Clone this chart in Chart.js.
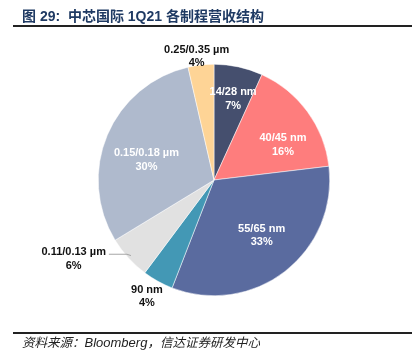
<!DOCTYPE html>
<html>
<head>
<meta charset="utf-8">
<script src="https://cdn.jsdelivr.net/npm/chart.js@4.4.1/dist/chart.umd.min.js"></script>
<style>
  html, body { margin: 0; padding: 0; background: #fff; }
  #wrap { position: relative; width: 416px; height: 357px; overflow: hidden; }
  #c { position: absolute; left: 0; top: 0; }
  #title { position: absolute; left: 22px; top: 7px; font-family: "Liberation Sans", "Noto Sans CJK SC", sans-serif; font-weight: bold; font-size: 14px; color: #1f3a63; white-space: nowrap; line-height: 18px; }
  .rule { position: absolute; left: 13px; width: 399px; height: 2px; background: #222; }
  #source { position: absolute; left: 22px; top: 335px; font-family: "Liberation Sans", "Noto Sans CJK SC", sans-serif; font-style: italic; font-size: 12.5px; color: #222; white-space: nowrap; line-height: 16px; }
</style>
</head>
<body>
<div id="wrap">
  <canvas id="c" width="416" height="357"></canvas>
  <div id="title">图 29:&nbsp; 中芯国际 1Q21 各制程营收结构</div>
  <div class="rule" style="top:25px"></div>
  <div class="rule" style="top:332px"></div>
  <div id="source">资料来源：<span style="font-size:13px">Bloomberg</span>，信达证券研发中心</div>
</div>
<script>
const categories = ["14/28 nm", "40/45 nm", "55/65 nm", "90 nm", "0.11/0.13 µm", "0.15/0.18 µm", "0.25/0.35 µm"];
const shares = [6.8, 16.3, 32.8, 4.3, 6.1, 30.1, 3.6];
const percentLabels = ["7%", "16%", "33%", "4%", "6%", "30%", "4%"];
const sliceColors = ["#454f6e", "#fe7d7d", "#5a6b9f", "#4398b5", "#e1e1e1", "#afbacd", "#fed496"];

// label placement style: radial factor, angular offset (deg), colour, leader line
const labelStyle = [
  { f: 0.72, d: 1,   color: "#ffffff" },
  { f: 0.67, d: 9,   color: "#ffffff" },
  { f: 0.63, d: -3,  color: "#ffffff" },
  { f: 1.16, d: 1,   color: "#111111" },
  { f: 1.39, d: 13,  color: "#111111", leader: true },
  { f: 0.61, d: -6,  color: "#ffffff" },
  { f: 1.08, d: -1.5,color: "#111111" }
];

const labelPlugin = {
  id: "sliceLabels",
  afterDatasetsDraw(chart) {
    const ctx = chart.ctx;
    const meta = chart.getDatasetMeta(0);
    ctx.save();
    ctx.font = "bold 11px 'Liberation Sans', Arial, sans-serif";
    ctx.textAlign = "center";
    ctx.textBaseline = "middle";
    meta.data.forEach((arc, i) => {
      const st = labelStyle[i];
      const mid = (arc.startAngle + arc.endAngle) / 2;
      const a = mid + st.d * Math.PI / 180;
      const r = arc.outerRadius * st.f;
      const x = arc.x + Math.cos(a) * r;
      const y = arc.y + Math.sin(a) * r;
      const y1 = y - 6.5, y2 = y + 7;
      if (st.leader) {
        const w = ctx.measureText(categories[i]).width;
        const ex = arc.x + Math.cos(mid) * arc.outerRadius * 0.97;
        const ey = arc.y + Math.sin(mid) * arc.outerRadius * 0.97;
        ctx.beginPath();
        ctx.strokeStyle = "#a6a6a6";
        ctx.lineWidth = 1;
        ctx.moveTo(x + w / 2 + 3, y1 + 2);
        ctx.lineTo(ex - 4, y1 + 2);
        ctx.lineTo(ex, ey);
        ctx.stroke();
      }
      ctx.fillStyle = st.color;
      ctx.fillText(categories[i], x, y1);
      ctx.fillText(percentLabels[i], x, y2);
    });
    ctx.restore();
  }
};

new Chart(document.getElementById("c"), {
  type: "pie",
  data: {
    labels: categories,
    datasets: [{
      data: shares,
      backgroundColor: sliceColors,
      borderColor: "#ffffff",
      borderWidth: 0.5
    }]
  },
  options: {
    responsive: false,
    animation: false,
    layout: { padding: { left: 98, right: 86, top: 64, bottom: 61 } },
    plugins: {
      legend: { display: false },
      tooltip: { enabled: false }
    }
  },
  plugins: [labelPlugin]
});
</script>
</body>
</html>
